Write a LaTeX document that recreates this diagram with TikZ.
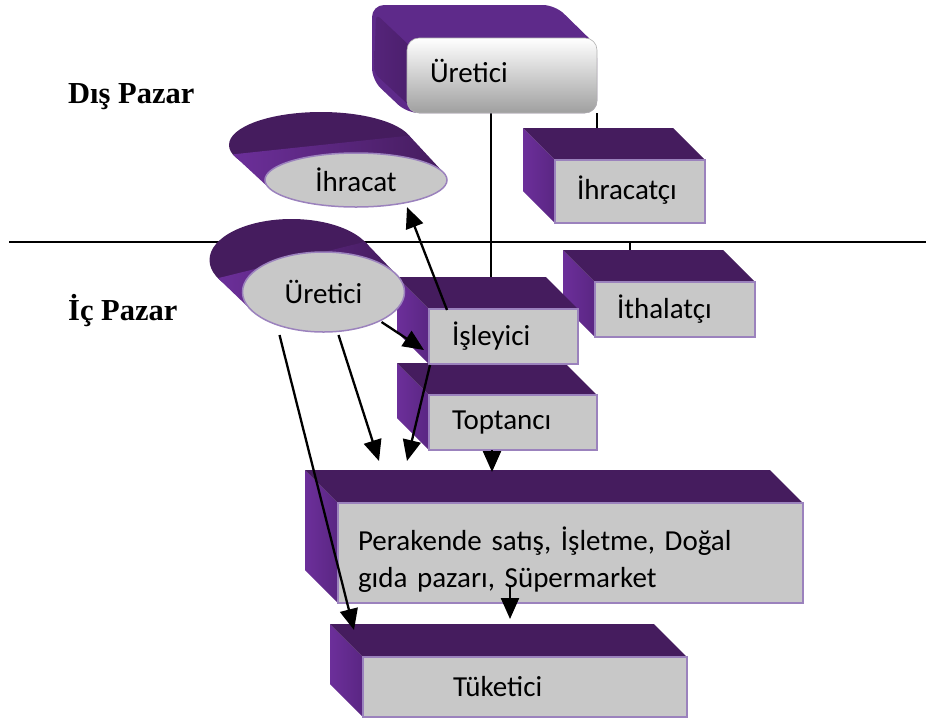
\documentclass[tikz,border=0pt]{standalone}
\usepackage{fontspec}
\setmainfont{Carlito}
\newfontfamily\pazarfont{Liberation Serif}
\usetikzlibrary{arrows.meta,calc,shapes.geometric,backgrounds}
\definecolor{ptop}{HTML}{451C5E}
\definecolor{pside}{HTML}{5A2683}
\definecolor{psidel}{HTML}{6C2F9A}
\definecolor{utop}{HTML}{5E2A8A}
\definecolor{uside}{HTML}{4B1F6C}
\definecolor{fgray}{HTML}{C8C8C8}
\definecolor{fborder}{HTML}{9B82BD}
\tikzset{
  face/.style={draw=fborder, line width=1.5pt, fill=fgray, outer sep=0pt,
    anchor=north west, align=left, inner ysep=0pt,
    font=\fontsize{29}{37}\selectfont},
  oval/.style={ellipse, draw=fborder, line width=1.5pt, fill=fgray,
    outer sep=0pt, inner sep=0pt, font=\fontsize{29}{36}\selectfont},
  topbox/.style={rounded corners=12pt, top color=white, bottom color=gray!75,
    draw=gray!60, line width=0.6pt, outer sep=0pt, anchor=north west,
    align=left, inner ysep=0pt, font=\fontsize{29}{36}\selectfont},
  flow/.style={line width=2.3pt, -{Triangle[length=21pt,width=18pt]}},
  link/.style={line width=1.5pt},
  lbl/.style={font=\pazarfont\bfseries\fontsize{30.5}{36}\selectfont,
    anchor=base west, inner sep=0pt}
}
\newcommand\boxext[2]{%
  \shade[left color=psidel, right color=pside] (#1.north west) -- ++(-#2,-#2)
    -- ($(#1.south west)+(-#2,-#2)$) -- (#1.south west) -- cycle;
  \fill[ptop] (#1.north west) -- ++(-#2,-#2)
    -- ($(#1.north east)+(-#2,-#2)$) -- (#1.north east) -- cycle;
}
\newcommand\ovalext[7]{% node, depth, rx, ry, tangent angle, back rx, back ry
  \fill[ptop] ($(#1.center)+(-#2,-#2)$) ellipse [x radius=#6, y radius=#7];
  \shade[left color=psidel, right color=ptop]
    ($(#1.center)+(#5:#3 and #4)$) -- ($(#1.center)+(#5:#6 and #7)+(-#2,-#2)$)
    -- ($(#1.center)+(#5+180:#6 and #7)+(-#2,-#2)$)
    -- ($(#1.center)+(#5+180:#3 and #4)$) -- cycle;
}
\begin{document}
\begin{tikzpicture}[x=1pt, y=-1pt]
\useasboundingbox (0,0) rectangle (926,724);

% front faces
\node[topbox, text width=144pt, inner xsep=23pt, minimum height=75pt, text depth=10pt] (uretici) at (407,38) {Üretici};
\node[face, text width=106pt, inner xsep=22pt, minimum height=63pt, text depth=7pt] (ihracatci) at (555,160) {İhracatçı};
\node[face, text width=116pt, inner xsep=22pt, minimum height=55pt] (ithalatci) at (595,282) {İthalatçı};
\node[face, text width=103pt, inner xsep=23pt, minimum height=55pt] (isleyici) at (429,309) {İşleyici};
\node[face, text width=122pt, inner xsep=23pt, minimum height=55pt] (toptanci) at (429,395) {Toptancı};
\node[face, text width=425pt, inner xsep=20pt, minimum height=100pt, text height=36pt] (perakende) at (338,503) {Perakende satış, İşletme, Doğal\\gıda pazarı, Süpermarket};
\node[face, text width=144pt, inner xsep=90pt, minimum height=60pt] (tuketici) at (363,657) {Tüketici};
\node[oval, minimum width=182pt, minimum height=54pt] (ihracat) at (356,180) {İhracat};
\node[oval, minimum width=162pt, minimum height=80pt] (ureticiE) at (323.5,292) {Üretici};

\coordinate (hl) at (9,242);
\coordinate (hr) at (926,242);
\coordinate (hi) at (630,242);
\coordinate (p3) at (407,461);
\coordinate (p4) at (379,461);

\begin{scope}[on background layer]
  \draw[line width=1.5pt] (hl) -- (hr);
  \draw[link] ($(uretici.south west)+(84,0)$) coordinate (u1) -- (u1 |- isleyici.north);
  \draw[link] (uretici.south east) -- (uretici.south east |- ihracatci.north);
  \draw[link] (hi) -- (hi |- ithalatci.north);
  % top Uretici extrusion
  \fill[utop, rounded corners=12pt] ($(uretici.south west)+(-35,-33)$)
    -- ($(uretici.north west)+(-35,-33)$) -- ($(uretici.north east)+(-42,-33)$)
    -- ($(uretici.north east)+(0,8)$) -- (uretici.south east) -- (uretici.south west) -- cycle;
  \shade[left color=uside!70!psidel, right color=uside, rounded corners=6pt]
    ($(uretici.north west)+(-31,-24)$) -- ($(uretici.north west)+(5,10)$)
    -- ($(uretici.south west)+(5,-5)$) -- ($(uretici.south west)+(-33,-40)$) -- cycle;
  \boxext{ihracatci}{32}
  \boxext{ithalatci}{32}
  \boxext{isleyici}{32}
  \boxext{toptanci}{32}
  \boxext{perakende}{33}
  \boxext{tuketici}{33}
  \ovalext{ihracat}{35}{91}{27}{-16.5}{92}{33}
  \ovalext{ureticiE}{32}{81}{40}{-26.3}{82}{41}
\end{scope}

% arrows
\draw[flow] ($(isleyici.north west)+(18,1)$) -- ($(ihracat.center)+(51,27)$);
\draw[flow] ($(ureticiE.center)+(58,30)$) -- ($(isleyici.north west)+(-5,41)$);
\draw[flow] ($(isleyici.south west)+(1,1)$) -- (p3);
\draw[flow] ($(ureticiE.center)+(15,43)$) -- (p4);
\draw[flow] ($(ureticiE.center)+(-44,43)$) -- ($(tuketici.north west)+(-9,-27)$);
\draw[flow] ($(toptanci.south west)+(63,0)$) -- ($(perakende.north west)+(154,-31)$);
\draw[flow] ($(perakende.south west)+(172,-18)$) -- ($(tuketici.north west)+(147,-38)$);

% labels
\node[lbl] (dis) at (68,103) {Dış Pazar};
\node[lbl] (ic) at (68,320) {İç Pazar};
\end{tikzpicture}
\end{document}
